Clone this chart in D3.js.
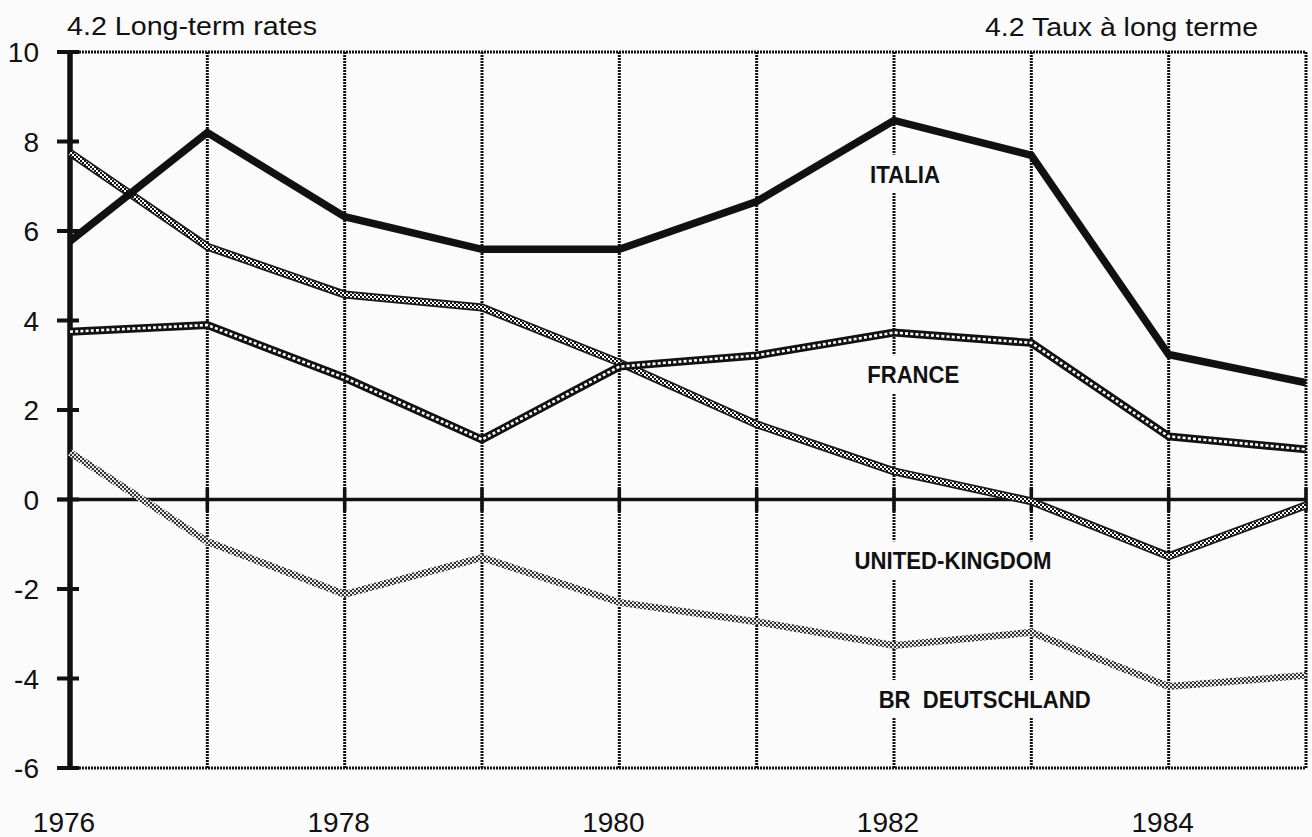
<!DOCTYPE html>
<html>
<head>
<meta charset="utf-8">
<script src="https://cdn.jsdelivr.net/npm/d3@7"></script>
<style>
  html, body { margin: 0; padding: 0; background: #fbfbfb; }
  svg { display: block; }
  text { font-family: "Liberation Sans", Arial, Helvetica, sans-serif; fill: #111; }
</style>
</head>
<body>
<svg id="chart" width="1312" height="837"></svg>
<script>
// ---------- data ----------
const years = [1976, 1977, 1978, 1979, 1980, 1981, 1982, 1983, 1984, 1985];
const italia = [5.77, 8.2, 6.32, 5.59, 5.59, 6.66, 8.47, 7.69, 3.24, 2.61];
const france = [3.75, 3.9, 2.72, 1.34, 2.97, 3.22, 3.73, 3.5, 1.41, 1.12];
const unitedKingdom = [7.75, 5.65, 4.58, 4.29, 3.06, 1.68, 0.63, -0.04, -1.27, -0.13];
const deutschland = [1.05, -0.94, -2.12, -1.3, -2.3, -2.73, -3.26, -2.97, -4.18, -3.93];
const yTickValues = [-6, -4, -2, 0, 2, 4, 6, 8, 10];
const xTickLabels = [1976, 1978, 1980, 1982, 1984];
const seriesNames = ["ITALIA", "FRANCE", "UNITED-KINGDOM", "BR  DEUTSCHLAND"];
const titleLeft = "4.2 Long-term rates";
const titleRight = "4.2 Taux à long terme";

// ---------- setup ----------
const svg = d3.select("#chart");
const x = d3.scaleLinear().domain([1976, 1985]).range([70, 1306]);
const y = d3.scaleLinear().domain([-6, 10]).range([768, 52]);

const defs = svg.append("defs");
const pUK = defs.append("pattern").attr("id", "pUK").attr("patternUnits", "userSpaceOnUse")
  .attr("width", 4).attr("height", 4);
pUK.append("rect").attr("width", 4).attr("height", 4).attr("fill", "#fff");
pUK.append("rect").attr("x", 0).attr("y", 0).attr("width", 2).attr("height", 2).attr("fill", "#111");
pUK.append("rect").attr("x", 2).attr("y", 2).attr("width", 2).attr("height", 2).attr("fill", "#111");
const pDE = defs.append("pattern").attr("id", "pDE").attr("patternUnits", "userSpaceOnUse")
  .attr("width", 4).attr("height", 4);
pDE.append("rect").attr("width", 4).attr("height", 4).attr("fill", "#e8e8e8");
pDE.append("rect").attr("x", 0).attr("y", 0).attr("width", 2).attr("height", 2).attr("fill", "#333");
pDE.append("rect").attr("x", 2).attr("y", 2).attr("width", 2).attr("height", 2).attr("fill", "#333");

svg.append("rect").attr("width", 1312).attr("height", 837).attr("fill", "#fbfbfb");

// ---------- grid (zigzag dotted) ----------
const grid = svg.append("g");
const gridStyle = sel => sel.attr("stroke", "#111").attr("stroke-width", 3)
  .attr("stroke-dasharray", "2,1");
grid.selectAll("line.vg").data(years.slice(1)).join("line").attr("class", "vg")
  .attr("x1", d => x(d)).attr("x2", d => x(d))
  .attr("y1", y(10)).attr("y2", y(-6)).call(gridStyle);
grid.selectAll("line.hg").data([10, -6]).join("line").attr("class", "hg")
  .attr("x1", x(1976)).attr("x2", x(1985))
  .attr("y1", d => y(d)).attr("y2", d => y(d)).call(gridStyle);

// ---------- label masks + labels ----------
const labelSpecs = [
  { name: seriesNames[0], yr: 1982.08, v: 7.08, w: 70 },
  { name: seriesNames[1], yr: 1982.14, v: 2.6, w: 92 },
  { name: seriesNames[2], yr: 1982.43, v: -1.56, w: 197 },
  { name: seriesNames[3], yr: 1982.66, v: -4.66, w: 212 }
];
const lab = svg.append("g");
lab.selectAll("rect").data(labelSpecs).join("rect")
  .attr("x", d => x(d.yr) - d.w / 2 - 8).attr("width", d => d.w + 16)
  .attr("y", d => y(d.v) - 28).attr("height", 38)
  .attr("fill", "#fbfbfb");
lab.selectAll("text").data(labelSpecs).join("text")
  .attr("x", d => x(d.yr)).attr("y", d => y(d.v))
  .attr("text-anchor", "middle")
  .attr("font-size", 24).attr("font-weight", "bold")
  .attr("textLength", d => d.w).attr("lengthAdjust", "spacingAndGlyphs")
  .style("white-space", "pre")
  .text(d => d.name);

// ---------- zero line & axis ----------
svg.append("line").attr("x1", x(1976) - 13).attr("x2", x(1985))
  .attr("y1", y(0)).attr("y2", y(0)).attr("stroke", "#111").attr("stroke-width", 3.5);
svg.selectAll("line.zt").data(years.slice(1)).join("line").attr("class", "zt")
  .attr("x1", d => x(d)).attr("x2", d => x(d))
  .attr("y1", y(0) - 12).attr("y2", y(0) + 12)
  .attr("stroke", "#111").attr("stroke-width", 3.5);
svg.append("line").attr("x1", x(1976)).attr("x2", x(1976))
  .attr("y1", y(10)).attr("y2", y(-6)).attr("stroke", "#111").attr("stroke-width", 5.5);
svg.selectAll("line.yt").data(yTickValues).join("line").attr("class", "yt")
  .attr("x1", x(1976) - 13).attr("x2", x(1976) + 9)
  .attr("y1", d => y(d)).attr("y2", d => y(d))
  .attr("stroke", "#111").attr("stroke-width", 4);
svg.selectAll("text.yl").data(yTickValues).join("text").attr("class", "yl")
  .attr("x", 39).attr("y", d => y(d) + 10)
  .attr("text-anchor", "end").attr("font-size", 28)
  .text(d => d);
svg.selectAll("text.xl").data(xTickLabels).join("text").attr("class", "xl")
  .attr("x", d => x(d) - 6).attr("y", 832)
  .attr("text-anchor", "middle").attr("font-size", 28)
  .text(d => d);

// ---------- titles ----------
svg.append("text").attr("x", 67).attr("y", 35).attr("font-size", 25)
  .attr("textLength", 250).attr("lengthAdjust", "spacingAndGlyphs").text(titleLeft);
svg.append("text").attr("x", 985).attr("y", 36).attr("font-size", 25)
  .attr("textLength", 273).attr("lengthAdjust", "spacingAndGlyphs").text(titleRight);

// ---------- series lines ----------
const line = d3.line().x((d, i) => x(years[i])).y(d => y(d));
const g = svg.append("g").attr("fill", "none").attr("stroke-linejoin", "miter");
g.append("path").datum(deutschland).attr("d", line)
  .attr("stroke", "url(#pDE)").attr("stroke-width", 7);
g.append("path").datum(unitedKingdom).attr("d", line)
  .attr("stroke", "#1a1a1a").attr("stroke-width", 8);
g.append("path").datum(unitedKingdom).attr("d", line)
  .attr("stroke", "url(#pUK)").attr("stroke-width", 4.5);
g.append("path").datum(france).attr("d", line)
  .attr("stroke", "#111").attr("stroke-width", 8);
g.append("path").datum(france).attr("d", line)
  .attr("stroke", "#fff").attr("stroke-width", 2.6).attr("stroke-dasharray", "3,2.2");
g.append("path").datum(italia).attr("d", line)
  .attr("stroke", "#111").attr("stroke-width", 7.5);
</script>
</body>
</html>
